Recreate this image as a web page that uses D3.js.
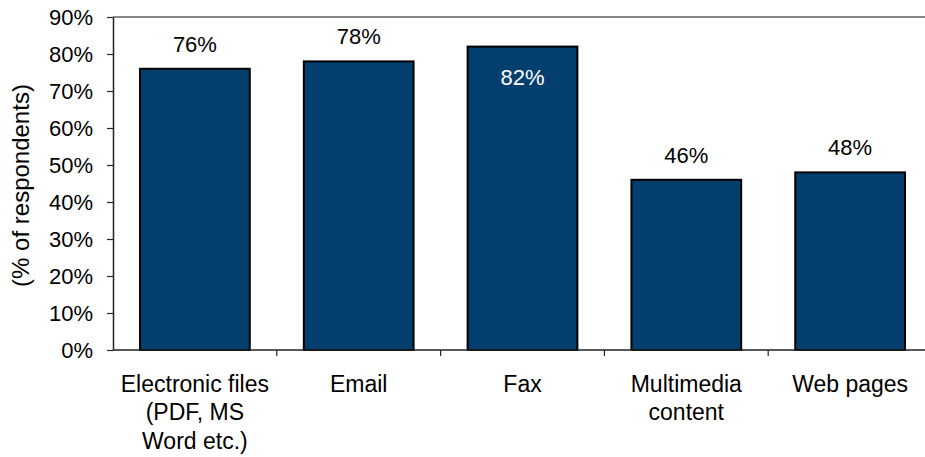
<!DOCTYPE html>
<html>
<head>
<meta charset="utf-8">
<script src="https://cdn.jsdelivr.net/npm/d3@7"></script>
<style>
  html, body { margin: 0; padding: 0; background: #fff; }
  svg { display: block; font-family: Arial, "Liberation Sans", sans-serif; }
</style>
</head>
<body>
<svg id="chart" width="925" height="457"></svg>
<script>
// Categories (multi-line labels) and their percentages
const categories = [
  ["Electronic files", "(PDF, MS", "Word etc.)"],
  ["Email"],
  ["Fax"],
  ["Multimedia", "content"],
  ["Web pages"]
];
const values = [76, 78, 82, 46, 48];
const yTicks = [0, 10, 20, 30, 40, 50, 60, 70, 80, 90];

const svg = d3.select("#chart");
const plotLeft = 113, plotRight = 932, plotTop = 17, plotBottom = 350;
const barColor = "#033f6e";

const x = d3.scaleBand()
  .domain(d3.range(categories.length))
  .range([plotLeft, plotRight])
  .paddingInner(0.33)
  .paddingOuter(0.165);

const xTicks = d3.scaleBand()
  .domain(d3.range(categories.length))
  .range([plotLeft, plotRight]);

const y = d3.scaleLinear().domain([0, 90]).range([plotBottom, plotTop]);

// top border of the plot area
svg.append("line")
  .attr("x1", plotLeft).attr("x2", 925)
  .attr("y1", plotTop).attr("y2", plotTop)
  .attr("stroke", "#888").attr("stroke-width", 2);

// bars
svg.selectAll("rect.bar").data(values).join("rect")
  .attr("class", "bar")
  .attr("x", (d, i) => x(i))
  .attr("width", x.bandwidth())
  .attr("y", d => y(d))
  .attr("height", d => y(0) - y(d))
  .attr("fill", barColor)
  .attr("stroke", "#000")
  .attr("stroke-width", 2);

// value labels: above the bar, or inside in white when close to the top
svg.selectAll("text.val").data(values).join("text")
  .attr("class", "val")
  .attr("x", (d, i) => x(i) + x.bandwidth() / 2)
  .attr("y", d => d >= 80 ? y(d) + 38 : y(d) - 17)
  .attr("text-anchor", "middle")
  .attr("font-size", 22)
  .attr("fill", d => d >= 80 ? "#fff" : "#000")
  .text(d => d + "%");

// y axis
const yAxis = svg.append("g")
  .attr("transform", `translate(${plotLeft},0)`)
  .call(d3.axisLeft(y).tickValues(yTicks).tickFormat(d => d + "%").tickSize(6).tickSizeOuter(0).tickPadding(14));
yAxis.select(".domain").attr("stroke", "#222").attr("stroke-width", 1.5);
yAxis.selectAll(".tick line").attr("stroke", "#222").attr("stroke-width", 1.2);
yAxis.selectAll(".tick text").attr("font-size", 22).attr("font-family", "Arial, 'Liberation Sans', sans-serif").attr("fill", "#000");

// x axis baseline and category ticks
svg.append("line")
  .attr("x1", plotLeft).attr("x2", 925)
  .attr("y1", plotBottom).attr("y2", plotBottom)
  .attr("stroke", "#222").attr("stroke-width", 1.5);
svg.selectAll("line.xtick").data(d3.range(1, categories.length)).join("line")
  .attr("class", "xtick")
  .attr("x1", i => xTicks(i)).attr("x2", i => xTicks(i))
  .attr("y1", plotBottom).attr("y2", plotBottom + 6)
  .attr("stroke", "#222").attr("stroke-width", 1.2);

// category labels
const labels = svg.selectAll("text.cat").data(categories).join("text")
  .attr("class", "cat")
  .attr("text-anchor", "middle")
  .attr("font-size", 23)
  .attr("fill", "#000");
labels.each(function(lines, i) {
  const t = d3.select(this);
  lines.forEach((line, j) => {
    t.append("tspan")
      .attr("x", x(i) + x.bandwidth() / 2)
      .attr("y", 391.5 + j * 28.8)
      .text(line);
  });
});

// y axis title
svg.append("text")
  .attr("transform", "translate(29,185.5) rotate(-90)")
  .attr("text-anchor", "middle")
  .attr("font-size", 24)
  .attr("fill", "#000")
  .text("(% of respondents)");
</script>
</body>
</html>
